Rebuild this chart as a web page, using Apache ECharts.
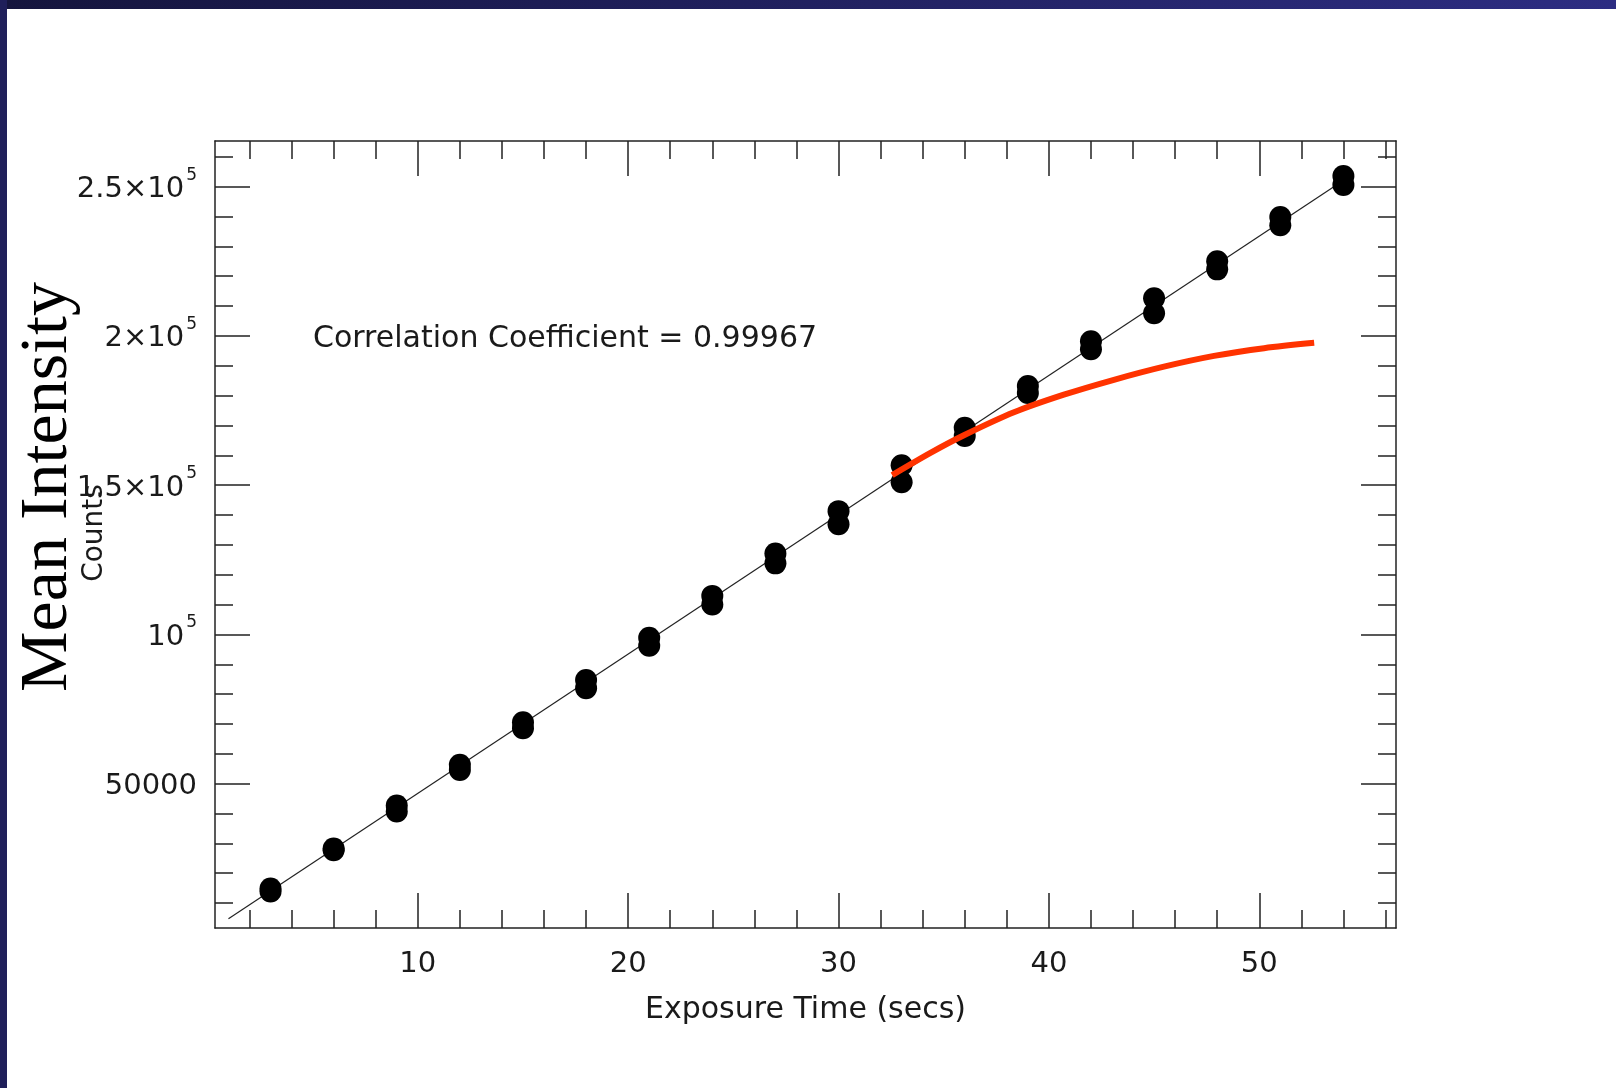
<!DOCTYPE html>
<html>
<head>
<meta charset="utf-8">
<title>Mean Intensity vs Exposure Time</title>
<script src="https://cdn.jsdelivr.net/npm/echarts@6/dist/echarts.min.js"></script>
<style>
  html, body { margin: 0; padding: 0; background: #fff; }
  #chart { width: 1616px; height: 1088px; }
</style>
</head>
<body>
<div id="chart"></div>
<script>
// exposure times (secs), two readings per exposure
var exposure = [3, 6, 9, 12, 15, 18, 21, 24, 27, 30, 33, 36, 39, 42, 45, 48, 51, 54];
var countsHigh = [14900, 28300, 42700, 56300, 70600, 84700, 98900, 112900, 127100, 141300, 156700, 169200, 183200, 198200, 212600, 225000, 239800, 253600];
var countsLow = [13900, 27700, 40700, 54600, 68600, 82000, 96200, 110000, 123800, 136900, 151000, 166500, 180900, 195500, 207600, 222300, 237100, 250600];

// linear fit end points
var fitX = [1, 54.3];
var fitY = [4700, 253500];

// red saturation curve
var curveX = [32.55, 34.37, 35.96, 38.34, 40.71, 43.09, 45.47, 47.85, 50.23, 52.61];
var curveY = [153350, 160800, 166700, 174400, 180300, 185300, 189700, 193300, 195900, 197700];

// ticks
var xMajorTicks = [10, 20, 30, 40, 50];
var xMinorTicks = [2, 4, 6, 8, 12, 14, 16, 18, 22, 24, 26, 28, 32, 34, 36, 38, 42, 44, 46, 48, 52, 54, 56];
var yMajorTicks = [50000, 100000, 150000, 200000, 250000];
var yTickLabels = ['{n|50000}', '{n|10}{s|5}', '{n|1.5×10}{s|5}', '{n|2×10}{s|5}', '{n|2.5×10}{s|5}'];
var yMinorTicks = [10000, 20000, 30000, 40000, 60000, 70000, 80000, 90000, 110000, 120000, 130000, 140000,
  160000, 170000, 180000, 190000, 210000, 220000, 230000, 240000, 260000];

var X_MIN = 0.36, X_MAX = 56.5;
var Y_MIN = 1640, Y_MAX = 265300;

var FONT = 'DejaVu Sans';
var INK = '#1a1a1a';

function pairs(xs, ys) {
  return xs.map(function (x, i) { return [x, ys[i]]; });
}

function xAxisDef(gridIndex, position, ticks, len, showLine, extra) {
  var a = {
    type: 'value', gridIndex: gridIndex, position: position,
    min: X_MIN, max: X_MAX,
    axisLine: { show: showLine, lineStyle: { color: '#222', width: 1.5 } },
    axisTick: { show: true, inside: true, length: len, customValues: ticks, lineStyle: { color: '#222', width: 1.5 } },
    axisLabel: { show: false },
    splitLine: { show: false }
  };
  return Object.assign(a, extra || {});
}

function yAxisDef(gridIndex, position, ticks, len, showLine, extra) {
  var a = {
    type: 'value', gridIndex: gridIndex, position: position,
    min: Y_MIN, max: Y_MAX,
    axisLine: { show: showLine, lineStyle: { color: '#222', width: 1.5 } },
    axisTick: { show: true, inside: true, length: len, customValues: ticks, lineStyle: { color: '#222', width: 1.5 } },
    axisLabel: { show: false },
    splitLine: { show: false }
  };
  return Object.assign(a, extra || {});
}

var chart = echarts.init(document.getElementById('chart'));

var gridBox = { left: 215, top: 141, width: 1181, height: 787 };

chart.setOption({
  animation: false,
  backgroundColor: '#fff',
  grid: [
    Object.assign({ containLabel: false }, gridBox),
    Object.assign({ containLabel: false }, gridBox)
  ],
  xAxis: [
    xAxisDef(0, 'bottom', xMajorTicks, 35, true, {
      name: 'Exposure Time (secs)',
      nameLocation: 'middle',
      nameGap: 67,
      nameTextStyle: { fontFamily: FONT, fontSize: 30, color: INK },
      axisLabel: {
        show: true, customValues: xMajorTicks, margin: 22,
        fontFamily: FONT, fontSize: 29, color: INK
      }
    }),
    xAxisDef(0, 'top', xMajorTicks, 35, true),
    xAxisDef(1, 'bottom', xMinorTicks, 18, false),
    xAxisDef(1, 'top', xMinorTicks, 18, false)
  ],
  yAxis: [
    yAxisDef(0, 'left', yMajorTicks, 35, true, {
      axisLabel: {
        show: true, customValues: yMajorTicks, margin: 18,
        fontFamily: FONT, fontSize: 29, color: INK,
        formatter: function (v) {
          var i = yMajorTicks.indexOf(v);
          return i >= 0 ? yTickLabels[i] : '';
        },
        rich: {
          n: { fontFamily: FONT, fontSize: 29, color: INK, lineHeight: 40, padding: [6, 0, 0, 0] },
          s: { fontFamily: FONT, fontSize: 17, color: INK, lineHeight: 17, verticalAlign: 'top', padding: [0, 0, 0, 2] }
        }
      }
    }),
    yAxisDef(0, 'right', yMajorTicks, 35, true),
    yAxisDef(1, 'left', yMinorTicks, 18, false),
    yAxisDef(1, 'right', yMinorTicks, 18, false)
  ],
  graphic: [
    {
      type: 'rect', silent: true, z: 100,
      shape: { x: 0, y: 0, width: 1616, height: 9 },
      style: {
        fill: new echarts.graphic.LinearGradient(0, 0, 1, 0, [
          { offset: 0, color: '#15153d' },
          { offset: 1, color: '#2d2d82' }
        ])
      }
    },
    {
      type: 'rect', silent: true, z: 100,
      shape: { x: 0, y: 0, width: 7, height: 1088 },
      style: { fill: '#1f1f5a' }
    },
    {
      type: 'text', silent: true, x: 48, y: 487, rotation: Math.PI / 2,
      style: {
        text: 'Mean Intensity', fontFamily: 'Liberation Serif', fontSize: 68,
        fill: '#000', align: 'center', verticalAlign: 'middle'
      }
    },
    {
      type: 'text', silent: true, x: 95, y: 533, rotation: Math.PI / 2,
      style: {
        text: 'Counts', fontFamily: FONT, fontSize: 28,
        fill: INK, align: 'center', verticalAlign: 'middle'
      }
    },
    {
      type: 'text', silent: true, x: 313, y: 339,
      style: {
        text: 'Correlation Coefficient = 0.99967', fontFamily: FONT, fontSize: 30,
        fill: INK, align: 'left', verticalAlign: 'middle'
      }
    }
  ],
  series: [
    {
      name: 'fit', type: 'line', xAxisIndex: 0, yAxisIndex: 0,
      data: pairs(fitX, fitY),
      symbol: 'none',
      lineStyle: { color: '#222', width: 1.2 },
      z: 2
    },
    {
      name: 'reading 1', type: 'scatter', xAxisIndex: 0, yAxisIndex: 0,
      data: pairs(exposure, countsHigh),
      symbol: 'circle', symbolSize: 22,
      itemStyle: { color: '#000', opacity: 1 },
      z: 3
    },
    {
      name: 'reading 2', type: 'scatter', xAxisIndex: 0, yAxisIndex: 0,
      data: pairs(exposure, countsLow),
      symbol: 'circle', symbolSize: 22,
      itemStyle: { color: '#000', opacity: 1 },
      z: 3
    },
    {
      name: 'saturation', type: 'line', xAxisIndex: 0, yAxisIndex: 0,
      data: pairs(curveX, curveY),
      smooth: 0.3, symbol: 'none',
      lineStyle: { color: '#ff3300', width: 6, cap: 'butt' },
      z: 4
    }
  ]
});
</script>
</body>
</html>
